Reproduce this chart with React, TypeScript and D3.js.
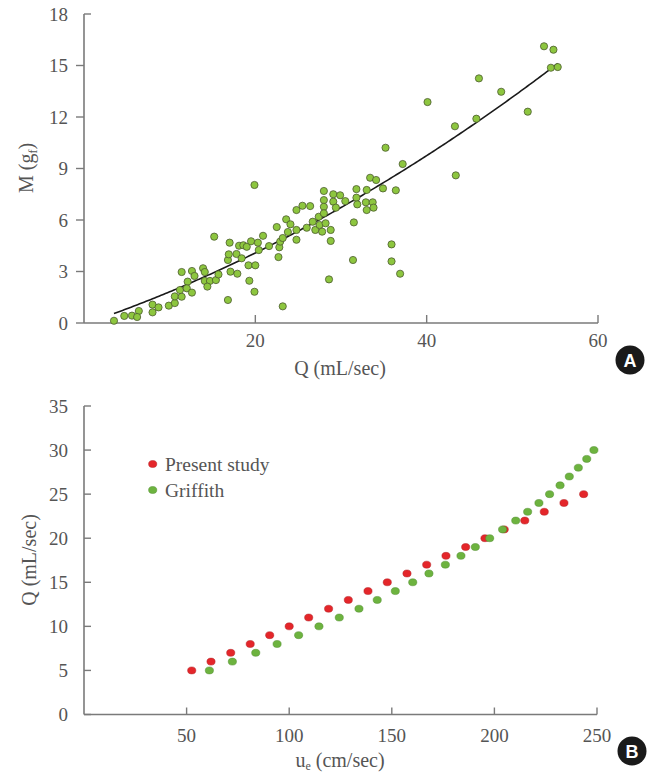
import React from 'react';
import * as d3 from 'd3';

// Panel A: flow rate Q (mL/sec) vs momentum M (gf)
const flowA: number[] = [
    3.5, 4.7, 5.6, 6.4, 6.2, 8.0, 8.0, 8.7, 9.9, 10.6, 10.6, 11.4, 11.2, 11.4, 12.1, 12.0, 12.6, 12.6, 12.9,
    13.9, 14.1, 14.1, 14.7, 14.4, 15.4, 15.7, 15.2, 16.8, 16.8, 16.9, 17.0, 17.1, 17.8, 17.9, 18.1, 18.6, 18.4,
    19.9, 19.0, 19.5, 20.3, 20.4, 19.2, 20.0, 19.3, 19.9, 20.9, 21.6, 22.5, 22.7, 22.8, 22.9, 23.2, 23.2, 23.6,
    23.8, 24.1, 24.8, 24.8, 24.8, 25.5, 26.0, 26.4, 26.7, 27.0, 27.4, 27.5, 27.8, 28.0, 28.0, 28.0, 28.0, 28.2,
    28.8, 28.8, 28.6, 29.1, 29.1, 29.4,
    35.2, 37.2, 33.4, 34.1, 34.9, 36.4, 29.9, 30.5, 31.8, 33.0, 31.8, 31.9, 32.9, 33.7, 33.0, 33.8, 31.5, 35.9,
    31.4, 35.9, 36.9,
    40.1, 43.3, 46.1, 45.8, 48.7, 51.8, 43.4, 53.7, 54.8, 54.5, 55.3,
];
const momentA: number[] = [
    0.13, 0.41, 0.43, 0.70, 0.35, 1.07, 0.62, 0.91, 1.01, 1.16, 1.55, 1.53, 1.92, 2.97, 2.41, 2.02, 1.77, 3.03, 2.74,
    3.19, 2.97, 2.45, 2.45, 2.12, 2.50, 2.83, 5.03, 1.34, 3.67, 4.00, 4.68, 2.99, 4.02, 2.87, 4.50, 4.53, 3.77,
    8.04, 4.44, 4.76, 4.68, 4.25, 3.36, 3.36, 2.46, 1.82, 5.08, 4.48, 5.59, 3.84, 4.41, 4.74, 4.95, 0.97, 6.04,
    5.30, 5.75, 6.58, 5.42, 4.85, 6.83, 5.55, 6.81, 5.90, 5.42, 6.19, 5.71, 5.32, 7.69, 7.16, 6.77, 6.39, 5.81,
    5.42, 4.78, 2.54, 7.50, 7.07, 6.72,
    10.21, 9.26, 8.46, 8.33, 7.84, 7.73, 7.44, 7.10, 7.80, 7.75, 7.30, 6.91, 7.03, 7.03, 6.58, 6.72, 5.86, 4.58,
    3.67, 3.59, 2.87,
    12.87, 11.46, 14.25, 11.90, 13.47, 12.31, 8.60, 16.12, 15.92, 14.87, 14.91,
];
// quadratic trend line M = c0 + c1 Q + c2 Q^2, drawn over the data range
const trendCoef: number[] = [-0.065, 0.1692, 0.001904];
const trendRange: number[] = [3.5, 55.3];
const ticksA_x: number[] = [20, 40, 60];
const ticksA_y: number[] = [0, 3, 6, 9, 12, 15, 18];

// Panel B: ue (cm/sec) vs Q (mL/sec)
const presentU: number[] = [52.5, 61.9, 71.5, 81.0, 90.5, 100.0, 109.5, 119.2, 128.8, 138.4, 147.8, 157.4, 167.0, 176.4, 186.0, 195.4, 204.8, 214.8, 224.3, 233.9, 243.5];
const presentQ: number[] = [5, 6, 7, 8, 9, 10, 11, 12, 13, 14, 15, 16, 17, 18, 19, 20, 21, 22, 23, 24, 25];
const griffithU: number[] = [61.1, 72.3, 83.7, 94.1, 104.6, 114.5, 124.4, 134.0, 142.9, 151.7, 160.2, 168.1, 176.1, 183.7, 190.7, 197.7, 204.0, 210.4, 216.2, 221.7, 226.9, 232.0, 236.5, 240.9, 245.0, 248.5];
const griffithQ: number[] = [5, 6, 7, 8, 9, 10, 11, 12, 13, 14, 15, 16, 17, 18, 19, 20, 21, 22, 23, 24, 25, 26, 27, 28, 29, 30];
const ticksB_x: number[] = [50, 100, 150, 200, 250];
const ticksB_y: number[] = [0, 5, 10, 15, 20, 25, 30, 35];

const FONT = '"Liberation Serif", "Times New Roman", serif';
const AXIS = '#7a7a7a';
const TEXT = '#555';

function App() {
    const width = 653;
    const height = 776;

    const xA = d3.scaleLinear().domain([0, 60]).range([84, 598]);
    const yA = d3.scaleLinear().domain([0, 18]).range([323, 14]);
    const xB = d3.scaleLinear().domain([0, 250]).range([84, 597]);
    const yB = d3.scaleLinear().domain([0, 35]).range([714.5, 406]);

    const trendPts = d3.range(trendRange[0], trendRange[1] + 0.001, 0.25).concat([trendRange[1]]);
    const trend = d3.line<number>()
        .x(q => xA(q))
        .y(q => yA(trendCoef[0] + trendCoef[1] * q + trendCoef[2] * q * q))(trendPts);

    const badge = (cx: number, cy: number, label: string) => (
        <g>
            <circle cx={cx} cy={cy} r={14.5} fill="#1a1a1a" />
            <text x={cx} y={cy + 6.5} textAnchor="middle" fill="#fff"
                style={{ font: 'bold 18px "Liberation Sans", Arial, sans-serif' }}>{label}</text>
        </g>
    );

    return (
        <div style={{ position: 'absolute', left: 0, top: 0 }}>
            <svg width={width} height={height} style={{ display: 'block', fontFamily: FONT }}>
                <rect width={width} height={height} fill="#fff" />

                {/* ---------- Panel A ---------- */}
                <g>
                    <line x1={xA(0)} x2={xA(60)} y1={yA(0)} y2={yA(0)} stroke={AXIS} strokeWidth={1.6} />
                    <line x1={xA(0)} x2={xA(0)} y1={yA(0)} y2={yA(18)} stroke={AXIS} strokeWidth={1.6} />
                    {ticksA_y.map(t => (
                        <g key={t}>
                            {t === 18
                                ? <line x1={xA(0)} x2={xA(0) + 7} y1={yA(t)} y2={yA(t)} stroke={AXIS} strokeWidth={1.4} />
                                : <line x1={xA(0) - 8} x2={xA(0)} y1={yA(t)} y2={yA(t)} stroke={AXIS} strokeWidth={1.4} />}
                            <text x={68} y={yA(t) + 6.5} textAnchor="end" fill={TEXT} fontSize={19}>{t}</text>
                        </g>
                    ))}
                    {ticksA_x.map(t => (
                        <g key={t}>
                            <line x1={xA(t)} x2={xA(t)} y1={yA(0)} y2={yA(0) - 8} stroke={AXIS} strokeWidth={1.4} />
                            <text x={xA(t)} y={347} textAnchor="middle" fill={TEXT} fontSize={19}>{t}</text>
                        </g>
                    ))}
                    <text x={340} y={375} textAnchor="middle" fill={TEXT} fontSize={20}>Q (mL/sec)</text>
                    <text transform="translate(33,168) rotate(-90)" textAnchor="middle" fill={TEXT} fontSize={20}>
                        M (g<tspan fontSize={12} dy={4}>f</tspan><tspan dy={-4}>)</tspan>
                    </text>

                    <path d={trend ?? ''} fill="none" stroke="#1a1a1a" strokeWidth={1.6} />
                    {flowA.map((q, i) => (
                        <circle key={i} cx={xA(q)} cy={yA(momentA[i])} r={3.6}
                            fill="#8dc63f" stroke="#4b5a2f" strokeWidth={0.8} />
                    ))}
                    {badge(630, 360, 'A')}
                </g>

                {/* ---------- Panel B ---------- */}
                <g>
                    <line x1={xB(0)} x2={xB(250)} y1={yB(0)} y2={yB(0)} stroke={AXIS} strokeWidth={1.6} />
                    <line x1={xB(0)} x2={xB(0)} y1={yB(0)} y2={yB(35)} stroke={AXIS} strokeWidth={1.6} />
                    {ticksB_y.map(t => (
                        <g key={t}>
                            <line x1={xB(0)} x2={xB(0) + 7} y1={yB(t)} y2={yB(t)} stroke={AXIS} strokeWidth={1.4} />
                            <text x={68} y={yB(t) + 6.5} textAnchor="end" fill={TEXT} fontSize={19}>{t}</text>
                        </g>
                    ))}
                    {ticksB_x.map(t => (
                        <g key={t}>
                            <line x1={xB(t)} x2={xB(t)} y1={yB(0)} y2={yB(0) - 7} stroke={AXIS} strokeWidth={1.4} />
                            <text x={xB(t)} y={742} textAnchor="middle" fill={TEXT} fontSize={19}>{t}</text>
                        </g>
                    ))}
                    <text x={340} y={767} textAnchor="middle" fill={TEXT} fontSize={20}>
                        u<tspan fontSize={12} dy={3}>e</tspan><tspan dy={-3}> (cm/sec)</tspan>
                    </text>
                    <text transform="translate(36,560) rotate(-90)" textAnchor="middle" fill={TEXT} fontSize={20}>Q (mL/sec)</text>

                    {presentU.map((u, i) => (
                        <ellipse key={'p' + i} cx={xB(u)} cy={yB(presentQ[i])} rx={4.1} ry={3.5}
                            fill="#e4262a" stroke="#b01e22" strokeWidth={0.5} />
                    ))}
                    {griffithU.map((u, i) => (
                        <ellipse key={'g' + i} cx={xB(u)} cy={yB(griffithQ[i])} rx={4.1} ry={3.5}
                            fill="#6db33f" stroke="#4d8a2a" strokeWidth={0.5} />
                    ))}

                    <ellipse cx={152.7} cy={464} rx={4.1} ry={3.5} fill="#e4262a" stroke="#b01e22" strokeWidth={0.5} />
                    <text x={165} y={470.5} fill={TEXT} fontSize={19.5}>Present study</text>
                    <ellipse cx={152.7} cy={490} rx={4.1} ry={3.5} fill="#6db33f" stroke="#4d8a2a" strokeWidth={0.5} />
                    <text x={165} y={496.5} fill={TEXT} fontSize={19.5}>Griffith</text>

                    {badge(632, 751, 'B')}
                </g>
            </svg>
        </div>
    );
}

export default App;
